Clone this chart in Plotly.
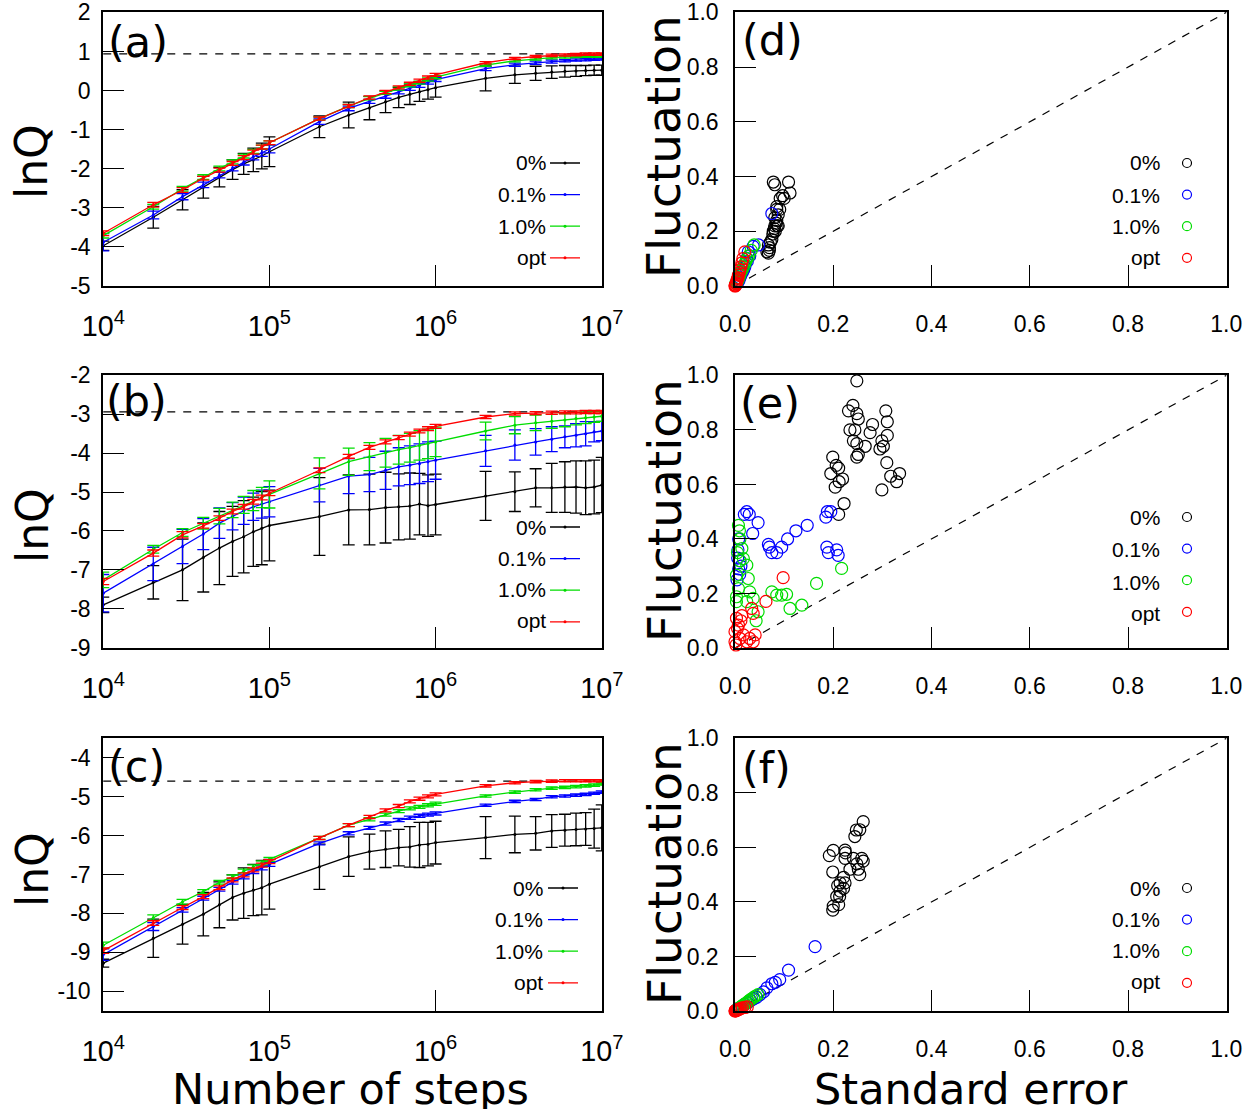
import plotly.graph_objects as go

W, H = 1257, 1114

# ---------------- data ----------------
steps = [1e4, 2e4, 3e4, 4e4, 5e4, 6e4, 7e4, 8e4, 9e4,
         1e5, 2e5, 3e5, 4e5, 5e5, 6e5, 7e5, 8e5, 9e5,
         1e6, 2e6, 3e6, 4e6, 5e6, 6e6, 7e6, 8e6, 9e6, 1e7]
labels = ["0%", "0.1%", "1.0%", "opt"]
colors = ["#000000", "#0000ff", "#00dd00", "#ff0000"]

a_ticks = [-5, -4, -3, -2, -1, 0, 1, 2]
a_ticktext = ["-5", "-4", "-3", "-2", "-1", "0", "1", "2"]
b_ticks = [-9, -8, -7, -6, -5, -4, -3, -2]
b_ticktext = ["-9", "-8", "-7", "-6", "-5", "-4", "-3", "-2"]
c_ticks = [-10, -9, -8, -7, -6, -5, -4]
c_ticktext = ["-10", "-9", "-8", "-7", "-6", "-5", "-4"]
r_ticks = [0.0, 0.2, 0.4, 0.6, 0.8, 1.0]
r_ticktext = ["0.0", "0.2", "0.4", "0.6", "0.8", "1.0"]

# panel (a)
a_0 = [-3.98, -3.25, -2.80, -2.48, -2.22, -2.03, -1.88, -1.78, -1.68, -1.57,
       -0.93, -0.63, -0.45, -0.29, -0.18, -0.10, -0.03, 0.02, 0.07,
       0.31, 0.40, 0.44, 0.47, 0.49, 0.50, 0.51, 0.52, 0.52]
a_0_err = [0.12, 0.28, 0.26, 0.28, 0.25, 0.25, 0.27, 0.30, 0.33, 0.38,
           0.28, 0.33, 0.30, 0.28, 0.26, 0.26, 0.25, 0.24, 0.24,
           0.32, 0.22, 0.18, 0.16, 0.15, 0.14, 0.13, 0.13, 0.13]
a_01 = [-3.89, -3.19, -2.72, -2.42, -2.17, -1.99, -1.84, -1.70, -1.60, -1.50,
        -0.80, -0.46, -0.28, -0.15, -0.04, 0.05, 0.13, 0.21, 0.28,
        0.56, 0.66, 0.71, 0.74, 0.76, 0.78, 0.79, 0.80, 0.81]
a_01_err = [0.22, 0.10, 0.08, 0.07, 0.07, 0.07, 0.07, 0.08, 0.09, 0.10,
            0.07, 0.06, 0.05, 0.05, 0.05, 0.05, 0.05, 0.05, 0.05,
            0.05, 0.04, 0.04, 0.04, 0.03, 0.03, 0.03, 0.03, 0.03]
a_1 = [-3.72, -2.98, -2.52, -2.22, -2.00, -1.83, -1.68, -1.56, -1.45, -1.34,
       -0.72, -0.40, -0.20, -0.06, 0.05, 0.13, 0.20, 0.28, 0.34,
       0.65, 0.76, 0.81, 0.84, 0.86, 0.87, 0.88, 0.88, 0.88]
a_1_err = [0.06, 0.06, 0.06, 0.06, 0.06, 0.05, 0.05, 0.05, 0.05, 0.05,
           0.04, 0.04, 0.04, 0.04, 0.04, 0.04, 0.04, 0.04, 0.04,
           0.03, 0.03, 0.03, 0.03, 0.03, 0.03, 0.03, 0.03, 0.03]
a_opt = [-3.66, -2.93, -2.55, -2.25, -2.04, -1.87, -1.72, -1.58, -1.45, -1.34,
         -0.72, -0.40, -0.18, -0.04, 0.08, 0.17, 0.25, 0.33, 0.40,
         0.71, 0.82, 0.87, 0.90, 0.91, 0.92, 0.93, 0.93, 0.93]
a_opt_err = [0.06, 0.06, 0.06, 0.05, 0.05, 0.05, 0.05, 0.05, 0.05, 0.05,
             0.04, 0.04, 0.04, 0.04, 0.04, 0.04, 0.04, 0.04, 0.04,
             0.03, 0.03, 0.03, 0.03, 0.03, 0.03, 0.03, 0.03, 0.03]
ref_a = 0.94

# panel (b)
b_0 = [-7.90, -7.32, -7.00, -6.68, -6.44, -6.27, -6.15, -6.02, -5.93, -5.86,
       -5.63, -5.46, -5.45, -5.40, -5.38, -5.36, -5.31, -5.35, -5.32,
       -5.10, -4.99, -4.89, -4.89, -4.87, -4.87, -4.89, -4.87, -4.82]
b_0_err = [0.20, 0.43, 0.79, 0.89, 0.94, 0.90, 0.93, 0.89, 0.94, 0.91,
           1.00, 0.90, 0.91, 0.91, 0.85, 0.85, 0.79, 0.79, 0.78,
           0.63, 0.51, 0.49, 0.63, 0.65, 0.67, 0.69, 0.69, 0.71]
b_01 = [-7.60, -6.85, -6.40, -6.08, -5.80, -5.62, -5.48, -5.38, -5.31, -5.25,
        -4.82, -4.59, -4.55, -4.44, -4.35, -4.31, -4.27, -4.22, -4.18,
        -3.94, -3.79, -3.71, -3.64, -3.58, -3.54, -3.50, -3.45, -3.43]
b_01_err = [0.48, 0.43, 0.44, 0.40, 0.39, 0.35, 0.35, 0.35, 0.36, 0.39,
            0.43, 0.45, 0.44, 0.49, 0.49, 0.50, 0.51, 0.51, 0.49,
            0.40, 0.39, 0.34, 0.32, 0.28, 0.30, 0.31, 0.26, 0.25]
b_1 = [-7.26, -6.47, -6.04, -5.80, -5.62, -5.46, -5.33, -5.22, -5.14, -5.06,
       -4.52, -4.22, -4.09, -3.99, -3.91, -3.86, -3.80, -3.76, -3.71,
       -3.43, -3.28, -3.22, -3.18, -3.15, -3.11, -3.09, -3.07, -3.05]
b_1_err = [0.20, 0.10, 0.10, 0.15, 0.20, 0.20, 0.22, 0.26, 0.26, 0.35,
           0.40, 0.35, 0.36, 0.37, 0.37, 0.37, 0.38, 0.38, 0.38,
           0.23, 0.22, 0.20, 0.18, 0.17, 0.16, 0.15, 0.14, 0.13]
b_opt = [-7.30, -6.57, -6.10, -5.87, -5.67, -5.50, -5.38, -5.25, -5.14, -5.03,
         -4.44, -4.08, -3.85, -3.71, -3.60, -3.51, -3.43, -3.37, -3.31,
         -3.07, -2.98, -2.97, -2.96, -2.95, -2.95, -2.94, -2.94, -2.94]
b_opt_err = [0.08, 0.08, 0.08, 0.06, 0.06, 0.06, 0.06, 0.06, 0.06, 0.06,
             0.06, 0.05, 0.05, 0.05, 0.05, 0.05, 0.05, 0.05, 0.05,
             0.04, 0.04, 0.04, 0.04, 0.04, 0.04, 0.04, 0.04, 0.04]
ref_b = -2.94

# panel (c)
c_0 = [-9.28, -8.64, -8.28, -8.02, -7.78, -7.59, -7.48, -7.40, -7.34, -7.25,
       -6.80, -6.54, -6.41, -6.35, -6.31, -6.29, -6.24, -6.22, -6.18,
       -6.05, -5.97, -5.94, -5.88, -5.86, -5.84, -5.83, -5.82, -5.80]
c_0_err = [0.10, 0.49, 0.51, 0.56, 0.59, 0.58, 0.65, 0.66, 0.70, 0.64,
           0.58, 0.51, 0.45, 0.47, 0.47, 0.52, 0.58, 0.56, 0.55,
           0.54, 0.47, 0.43, 0.42, 0.41, 0.42, 0.42, 0.50, 0.59]
c_01 = [-9.06, -8.34, -7.91, -7.61, -7.38, -7.20, -7.06, -6.93, -6.83, -6.74,
        -6.20, -5.94, -5.80, -5.69, -5.60, -5.54, -5.49, -5.46, -5.43,
        -5.22, -5.12, -5.07, -5.00, -4.98, -4.96, -4.94, -4.91, -4.88]
c_01_err = [0.15, 0.10, 0.06, 0.05, 0.05, 0.05, 0.05, 0.05, 0.05, 0.05,
            0.04, 0.04, 0.04, 0.04, 0.04, 0.04, 0.04, 0.04, 0.04,
            0.03, 0.03, 0.03, 0.03, 0.03, 0.03, 0.03, 0.03, 0.03]
c_1 = [-8.82, -8.11, -7.70, -7.44, -7.20, -7.06, -6.91, -6.80, -6.70, -6.61,
       -6.06, -5.73, -5.58, -5.46, -5.37, -5.30, -5.26, -5.22, -5.18,
       -4.98, -4.88, -4.82, -4.78, -4.76, -4.74, -4.72, -4.70, -4.67]
c_1_err = [0.08, 0.07, 0.06, 0.05, 0.05, 0.05, 0.05, 0.05, 0.05, 0.05,
           0.04, 0.04, 0.04, 0.04, 0.04, 0.04, 0.04, 0.04, 0.04,
           0.03, 0.03, 0.03, 0.03, 0.03, 0.03, 0.03, 0.03, 0.03]
c_opt = [-8.96, -8.25, -7.85, -7.57, -7.34, -7.14, -7.01, -6.88, -6.76, -6.67,
         -6.06, -5.73, -5.52, -5.35, -5.24, -5.12, -5.05, -4.99, -4.94,
         -4.72, -4.64, -4.61, -4.60, -4.59, -4.59, -4.59, -4.59, -4.59]
c_opt_err = [0.07, 0.06, 0.05, 0.05, 0.05, 0.05, 0.05, 0.05, 0.05, 0.05,
             0.04, 0.04, 0.04, 0.04, 0.04, 0.04, 0.04, 0.04, 0.04,
             0.03, 0.03, 0.03, 0.03, 0.03, 0.03, 0.03, 0.03, 0.03]
ref_c = -4.60

# panel (d): standard error (x) vs fluctuation (y)
d_0_x = [0.065, 0.068, 0.068, 0.070, 0.072, 0.075, 0.077, 0.078, 0.080, 0.082, 0.081, 0.084, 0.086, 0.088,
         0.085, 0.081, 0.088, 0.085, 0.091, 0.085, 0.092, 0.097, 0.100, 0.112, 0.109, 0.078, 0.081, 0.070]
d_0_y = [0.125, 0.12, 0.15, 0.14, 0.16, 0.17, 0.19, 0.20, 0.21, 0.20, 0.22, 0.23, 0.22, 0.22,
         0.24, 0.25, 0.26, 0.28, 0.28, 0.29, 0.32, 0.33, 0.32, 0.34, 0.38, 0.38, 0.37, 0.13]
d_01_x = [0.075, 0.048, 0.037, 0.027, 0.024, 0.022, 0.020, 0.018, 0.015, 0.012, 0.010, 0.008,
          0.006, 0.004, 0.003, 0.030, 0.025]
d_01_y = [0.265, 0.15, 0.145, 0.125, 0.10, 0.085, 0.07, 0.06, 0.05, 0.04, 0.03, 0.02,
          0.015, 0.01, 0.008, 0.11, 0.09]
d_1_x = [0.039, 0.033, 0.028, 0.025, 0.022, 0.020, 0.017, 0.015, 0.012, 0.010, 0.008, 0.006, 0.004, 0.002]
d_1_y = [0.15, 0.13, 0.11, 0.10, 0.09, 0.08, 0.07, 0.06, 0.05, 0.04, 0.03, 0.02, 0.015, 0.01]
d_opt_x = [0.020, 0.016, 0.014, 0.012, 0.010, 0.009, 0.007, 0.006, 0.005, 0.004, 0.003, 0.002,
           0.001, 0.0005, 0.0, 0.001]
d_opt_y = [0.125, 0.10, 0.085, 0.07, 0.06, 0.05, 0.04, 0.03, 0.025, 0.02, 0.012, 0.008,
           0.004, 0.002, 0.0, 0.001]

# panel (e)
e_0_x = [0.248, 0.231, 0.240, 0.248, 0.251, 0.234, 0.244, 0.241, 0.248, 0.265, 0.251, 0.248,
         0.275, 0.280, 0.307, 0.310, 0.310, 0.299, 0.295, 0.302, 0.309, 0.317, 0.335, 0.329,
         0.299, 0.199, 0.206, 0.195, 0.211, 0.219, 0.212, 0.204, 0.222, 0.211]
e_0_y = [0.98, 0.87, 0.89, 0.86, 0.84, 0.80, 0.80, 0.76, 0.75, 0.74, 0.71, 0.70,
         0.79, 0.82, 0.87, 0.83, 0.78, 0.76, 0.73, 0.74, 0.68, 0.63, 0.64, 0.61,
         0.58, 0.70, 0.67, 0.64, 0.66, 0.62, 0.61, 0.59, 0.53, 0.49]
e_01_x = [0.024, 0.029, 0.019, 0.047, 0.036, 0.068, 0.070, 0.075, 0.085, 0.095, 0.107, 0.124,
          0.147, 0.185, 0.188, 0.195, 0.187, 0.190, 0.207, 0.210, 0.0075, 0.0055, 0.0075,
          0.0095, 0.010, 0.006, 0.012, 0.004]
e_01_y = [0.50, 0.49, 0.49, 0.46, 0.42, 0.38, 0.37, 0.35, 0.35, 0.37, 0.40, 0.43,
          0.45, 0.48, 0.50, 0.50, 0.37, 0.35, 0.36, 0.34, 0.40, 0.33, 0.29,
          0.27, 0.32, 0.36, 0.30, 0.25]
e_1_x = [0.007, 0.009, 0.010, 0.014, 0.017, 0.024, 0.003, 0.007, 0.027, 0.030, 0.037, 0.024,
         0.003, 0.075, 0.085, 0.095, 0.105, 0.112, 0.136, 0.166, 0.217, 0.047, 0.043, 0.003,
         0.005, 0.010]
e_1_y = [0.45, 0.43, 0.40, 0.365, 0.328, 0.304, 0.267, 0.218, 0.255, 0.206, 0.182, 0.17,
         0.17, 0.206, 0.194, 0.194, 0.197, 0.145, 0.157, 0.237, 0.292, 0.133, 0.10, 0.188,
         0.35, 0.32]
e_opt_x = [0.098, 0.063, 0.034, 0.037, 0.014, 0.007, 0.0, 0.010, 0.024, 0.041, 0.0, 0.003,
           0.017, 0.030, 0.037, 0.002, 0.012, 0.005]
e_opt_y = [0.258, 0.171, 0.145, 0.127, 0.119, 0.084, 0.06, 0.035, 0.023, 0.048, 0.023, 0.109,
           0.048, 0.035, 0.023, 0.011, 0.10, 0.072]

# panel (f)
f_0_x = [0.261, 0.247, 0.254, 0.244, 0.200, 0.192, 0.224, 0.225, 0.224, 0.241, 0.258, 0.261,
         0.248, 0.234, 0.199, 0.251, 0.254, 0.221, 0.214, 0.224, 0.209, 0.214, 0.207, 0.213,
         0.211, 0.200, 0.199, 0.221]
f_0_y = [0.695, 0.664, 0.665, 0.64, 0.589, 0.57, 0.59, 0.58, 0.56, 0.56, 0.56, 0.55,
         0.54, 0.52, 0.51, 0.52, 0.50, 0.49, 0.47, 0.47, 0.46, 0.44, 0.42, 0.42,
         0.39, 0.385, 0.37, 0.45]
f_01_x = [0.163, 0.109, 0.091, 0.082, 0.075, 0.065, 0.058, 0.051, 0.044, 0.038, 0.032, 0.026,
          0.020, 0.015, 0.010, 0.006, 0.003]
f_01_y = [0.236, 0.15, 0.115, 0.105, 0.10, 0.085, 0.07, 0.06, 0.05, 0.045, 0.038, 0.03,
          0.025, 0.018, 0.012, 0.008, 0.004]
f_1_x = [0.047, 0.042, 0.038, 0.034, 0.030, 0.027, 0.024, 0.020, 0.017, 0.014, 0.011, 0.008, 0.005, 0.003]
f_1_y = [0.06, 0.055, 0.05, 0.045, 0.04, 0.035, 0.03, 0.026, 0.022, 0.018, 0.014, 0.01, 0.007, 0.004]
f_opt_x = [0.025, 0.020, 0.015, 0.012, 0.010, 0.008, 0.006, 0.005, 0.004, 0.003, 0.002, 0.001, 0.0005, 0.0]
f_opt_y = [0.015, 0.013, 0.012, 0.010, 0.008, 0.006, 0.005, 0.004, 0.003, 0.002, 0.0015, 0.001, 0.0005, 0.0]

diag = [0.0, 1.0]

# ---------------- figure ----------------
TICKFONT = "Liberation Sans, Arial, Helvetica, sans-serif"
TITLEFONT = "DejaVu Sans, Verdana, sans-serif"
PAD = 0.0015   # tiny range padding so edge ticks are kept


def px(x):
    return x / W


def py(y):
    return 1 - y / H


fig = go.Figure()

left_panels = [
    ("x", "y", "legend", [a_0, a_01, a_1, a_opt], [a_0_err, a_01_err, a_1_err, a_opt_err], ref_a),
    ("x3", "y3", "legend3", [b_0, b_01, b_1, b_opt], [b_0_err, b_01_err, b_1_err, b_opt_err], ref_b),
    ("x5", "y5", "legend5", [c_0, c_01, c_1, c_opt], [c_0_err, c_01_err, c_1_err, c_opt_err], ref_c),
]
for xa, ya, lg, series, errs, ref in left_panels:
    fig.add_trace(go.Scatter(x=[steps[0], steps[-1]], y=[ref, ref], mode="lines",
                             line=dict(color="black", width=1.2, dash="8px,8px"),
                             xaxis=xa, yaxis=ya, showlegend=False, hoverinfo="skip"))
    for vals, err, lab, col in zip(series, errs, labels, colors):
        fig.add_trace(go.Scatter(x=steps, y=vals, name=lab, mode="lines+markers",
                                 line=dict(color=col, width=1.3),
                                 marker=dict(color=col, size=3),
                                 error_y=dict(type="data", array=err, visible=True,
                                              color=col, thickness=1.3, width=6),
                                 xaxis=xa, yaxis=ya, showlegend=False))
    for lab, col in zip(labels, colors):
        fig.add_trace(go.Scatter(x=[None], y=[None], name="", mode="lines+markers",
                                 line=dict(color=col, width=1.3),
                                 marker=dict(color=col, size=3),
                                 xaxis=xa, yaxis=ya, legend=lg, showlegend=True,
                                 hoverinfo="skip"))

right_panels = [
    ("x2", "y2", "legend2", [(d_0_x, d_0_y), (d_01_x, d_01_y), (d_1_x, d_1_y), (d_opt_x, d_opt_y)]),
    ("x4", "y4", "legend4", [(e_0_x, e_0_y), (e_01_x, e_01_y), (e_1_x, e_1_y), (e_opt_x, e_opt_y)]),
    ("x6", "y6", "legend6", [(f_0_x, f_0_y), (f_01_x, f_01_y), (f_1_x, f_1_y), (f_opt_x, f_opt_y)]),
]
for xa, ya, lg, series in right_panels:
    fig.add_trace(go.Scatter(x=diag, y=diag, mode="lines",
                             line=dict(color="black", width=1.2, dash="8px,8px"),
                             xaxis=xa, yaxis=ya, showlegend=False, hoverinfo="skip"))
    for (sx, sy), lab, col in zip(series, labels, colors):
        fig.add_trace(go.Scatter(x=sx, y=sy, name=lab, mode="markers",
                                 marker=dict(symbol="circle-open", size=12, color=col,
                                             line=dict(color=col, width=1.2)),
                                 cliponaxis=False, xaxis=xa, yaxis=ya, showlegend=False))
    for lab, col in zip(labels, colors):
        fig.add_trace(go.Scatter(x=[None], y=[None], name="", mode="markers",
                                 marker=dict(symbol="circle-open", size=9, color=col,
                                             line=dict(color=col, width=1.2)),
                                 xaxis=xa, yaxis=ya, legend=lg, showlegend=True,
                                 hoverinfo="skip"))

# ---------------- axes ----------------
left_dom = [px(103), px(602)]
right_dom = [px(735), px(1227)]
rows = [(12, 286), (375, 648), (738, 1011)]

common = dict(showline=True, linecolor="black", linewidth=1.5, mirror=True,
              ticks="inside", ticklen=21, tickwidth=1.3, tickcolor="black",
              showgrid=False, zeroline=False, automargin=False,
              ticklabeloverflow="allow",
              tickfont=dict(family=TICKFONT, size=23, color="black"))

yranges = [[-5, 2], [-9, -2], [-10.5, -3.5]]
yticks = [(a_ticks, a_ticktext), (b_ticks, b_ticktext), (c_ticks, c_ticktext)]
layout_axes = {}
for i, (top, bot) in enumerate(rows):
    ydom = [py(bot), py(top)]
    lx = 2 * i + 1
    rx = 2 * i + 2
    lxn = "xaxis" if lx == 1 else f"xaxis{lx}"
    lyn = "yaxis" if lx == 1 else f"yaxis{lx}"
    lys = "y" if lx == 1 else f"y{lx}"
    lxs = "x" if lx == 1 else f"x{lx}"
    r0, r1 = yranges[i]
    layout_axes[lxn] = dict(common, type="log", range=[4 - PAD, 7 + PAD], dtick=1,
                            exponentformat="power", showexponent="all",
                            domain=left_dom, anchor=lys, ticklabelstandoff=15)
    layout_axes[lyn] = dict(common, range=[r0 - PAD * 7, r1 + PAD * 7], tickmode="array",
                            tickvals=yticks[i][0], ticktext=yticks[i][1],
                            domain=ydom, anchor=lxs, ticklabelstandoff=6)
    layout_axes[f"xaxis{rx}"] = dict(common, range=[0, 1 + PAD], tickmode="array",
                                     tickvals=r_ticks, ticktext=r_ticktext,
                                     domain=right_dom, anchor=f"y{rx}", ticklabelstandoff=17)
    layout_axes[f"yaxis{rx}"] = dict(common, range=[0, 1 + PAD], tickmode="array",
                                     tickvals=r_ticks, ticktext=r_ticktext,
                                     domain=ydom, anchor=f"x{rx}", ticklabelstandoff=10)

fig.update_layout(**layout_axes)

# ---------------- legends (symbols) + labels ----------------
legend_rows = {
    "legend": (545, [163, 194, 226, 257]),
    "legend3": (545, [527, 558, 589, 620]),
    "legend5": (543, [888, 919, 951, 982]),
    "legend2": (1167, [163, 195, 226, 257]),
    "legend4": (1167, [517, 549, 582, 613]),
    "legend6": (1167, [888, 919, 950, 981]),
}
legend_text_right = {"legend": 548, "legend3": 548, "legend5": 545,
                     "legend2": 1162, "legend4": 1162, "legend6": 1162}
annotations = []
for lg, (lx, rowsy) in legend_rows.items():
    fig.update_layout({lg: dict(x=px(lx), y=py(rowsy[0] - 20.8), xanchor="left", yanchor="top",
                                xref="paper", yref="paper", bgcolor="rgba(0,0,0,0)",
                                borderwidth=0, itemwidth=30, tracegroupgap=0,
                                font=dict(family=TICKFONT, size=22, color="black"))})
    for lab, yy in zip(labels, rowsy):
        annotations.append(dict(text=lab, x=px(legend_text_right[lg]), y=py(yy),
                                xref="paper", yref="paper", xanchor="right", yanchor="middle",
                                showarrow=False,
                                font=dict(family=TICKFONT, size=21, color="black")))

# panel labels
for txt, (xx, yy) in zip(["(a)", "(b)", "(c)", "(d)", "(e)", "(f)"],
                         [(106, 42), (104, 401), (106, 766), (740, 40), (738, 403), (740, 768)]):
    annotations.append(dict(text=txt, x=px(xx), y=py(yy), xref="paper", yref="paper",
                            xanchor="left", yanchor="middle", showarrow=False,
                            font=dict(family=TITLEFONT, size=43, color="black")))

# axis titles
for yy in [162, 526, 870]:
    annotations.append(dict(text="lnQ", x=px(32), y=py(yy), xref="paper", yref="paper",
                            xanchor="center", yanchor="middle", textangle=-90, showarrow=False,
                            font=dict(family=TITLEFONT, size=44, color="black")))
for yy in [147, 511, 874]:
    annotations.append(dict(text="Fluctuation", x=px(664), y=py(yy), xref="paper", yref="paper",
                            xanchor="center", yanchor="middle", textangle=-90, showarrow=False,
                            font=dict(family=TITLEFONT, size=47, color="black")))
annotations.append(dict(text="Number of steps", x=px(350), y=py(1089), xref="paper", yref="paper",
                        xanchor="center", yanchor="middle", showarrow=False, height=40,
                        font=dict(family=TITLEFONT, size=43, color="black")))
annotations.append(dict(text="Standard error", x=px(971), y=py(1089), xref="paper", yref="paper",
                        xanchor="center", yanchor="middle", showarrow=False, height=40,
                        font=dict(family=TITLEFONT, size=43, color="black")))

fig.update_layout(width=W, height=H, margin=dict(l=0, r=0, t=0, b=0),
                  paper_bgcolor="white", plot_bgcolor="white",
                  font=dict(family=TICKFONT, size=22, color="black"),
                  showlegend=True, annotations=annotations)

fig.write_html("out.html", config={"displayModeBar": False},
               post_script="document.body.style.margin='0px'; document.body.style.overflow='hidden';")
